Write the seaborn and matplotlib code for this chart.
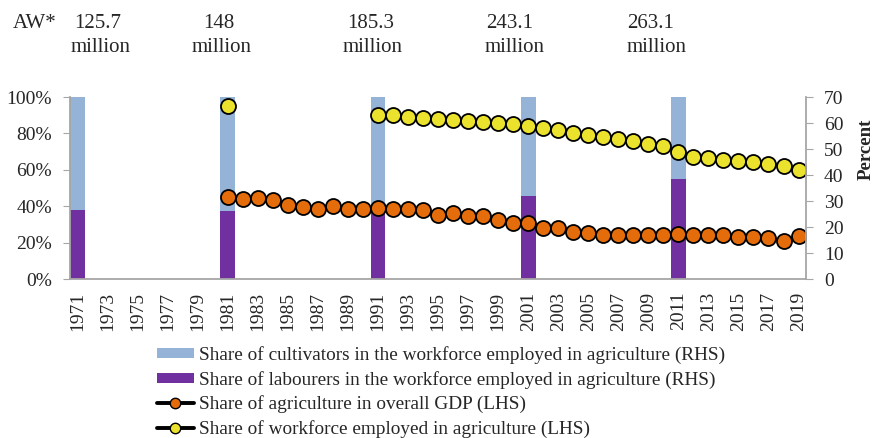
import numpy as np
import pandas as pd
import matplotlib
matplotlib.use("Agg")
import matplotlib.pyplot as plt
import seaborn as sns
from matplotlib.ticker import FuncFormatter, FixedLocator
from matplotlib.patches import Patch
from matplotlib.lines import Line2D

nan = np.nan

years = list(range(1971, 2020))

# census years: share of labourers / cultivators in agricultural workforce (%)
census_years = [1971, 1981, 1991, 2001, 2011]
labourers = [37.8, 37.5, 40.3, 45.6, 54.9]
cultivators = [62.2, 62.5, 59.7, 54.4, 45.1]
aw_millions = ["125.7", "148", "185.3", "243.1", "263.1"]

# share of agriculture in GDP (%), 1981-2019
gdp_share = [31.7, 30.7, 31.3, 30.2, 28.6, 27.6, 27.1, 28.1, 27.1, 27.1,
             27.5, 26.8, 27.1, 26.4, 24.5, 25.2, 24.3, 24.3, 22.8, 21.6,
             21.6, 19.6, 19.6, 17.9, 17.7, 16.9, 16.8, 16.8, 16.8, 17.1,
             17.3, 16.9, 17.1, 16.9, 16.3, 16.3, 15.7, 14.7, 16.6]

# share of workforce employed in agriculture (%), 1981, then 1991-2019
wf_share = [66.7] + [nan] * 9 + [
    63.2, 62.9, 62.5, 62.0, 61.6, 61.3, 60.8, 60.4, 59.9, 59.5,
    58.9, 58.2, 57.5, 56.3, 55.5, 54.6, 53.7, 52.9, 52.1, 51.2,
    48.9, 47.0, 46.5, 45.8, 45.4, 44.9, 44.4, 43.6, 42.1]

line_years = list(range(1981, 2020))

sns.set_style("white")
plt.rcParams["font.family"] = ["Liberation Serif", "DejaVu Serif"]

c_cult = "#95B3D7"
c_lab = "#7030A0"
c_gdp = "#E46C0A"
c_wf = "#EBE22E"
gray = "#A6A6A6"

year_labels = [str(y) for y in years]
bars = pd.DataFrame({
    "year": [str(y) for y in census_years],
    "total": np.array(labourers) + np.array(cultivators),
    "lab": labourers,
})

lines = pd.DataFrame({
    "pos": [years.index(y) for y in line_years],
    "gdp": gdp_share,
    "wf": wf_share,
})
lines["seg"] = lines["wf"].isna().cumsum()

fig = plt.figure(figsize=(8.73, 4.38), dpi=100)
ax = fig.add_axes([0.0802, 0.363, 0.8431, 0.4155])

sns.barplot(data=bars, x="year", y="total", order=year_labels, color=c_cult,
            width=0.98, saturation=1, linewidth=0, ax=ax)
sns.barplot(data=bars, x="year", y="lab", order=year_labels, color=c_lab,
            width=0.98, saturation=1, linewidth=0, ax=ax)

ax2 = ax.twinx()
mk = dict(marker="o", markersize=10.8, markeredgecolor="black",
          markeredgewidth=1.3, color="black", linewidth=1.8)
sns.lineplot(data=lines, x="pos", y="gdp", markerfacecolor=c_gdp, ax=ax2, **mk)
wf = lines.dropna(subset=["wf"])
sns.lineplot(data=wf, x="pos", y="wf", units="seg", estimator=None,
             markerfacecolor=c_wf, ax=ax2, **mk)

ax.set_xlim(-0.5, len(years) - 0.5)
ax.set_ylim(0, 100)
ax2.set_ylim(0, 70)
ax.set_xlabel("")
ax.set_ylabel("")
ax2.set_xlabel("")
ax2.set_ylabel("Percent", fontsize=13.6, fontweight="bold", va="center")
ax2.yaxis.set_label_coords(1.0815, 0.714)

ax.xaxis.set_major_locator(FixedLocator(list(range(0, len(years), 2))))
ax.set_xticklabels(year_labels[::2], rotation=90)
ax.xaxis.set_minor_locator(FixedLocator(np.arange(-0.5, len(years), 1)))
ax.tick_params(axis="x", which="major", length=0, labelsize=14, pad=9)
ax.tick_params(axis="x", which="minor", length=5, color=gray, direction="out")

ax.set_yticks(range(0, 101, 20))
ax.yaxis.set_major_formatter(FuncFormatter(lambda v, p: f"{int(v)}%"))
ax.tick_params(axis="y", length=5, color=gray, labelsize=14, pad=8)
ax2.set_yticks(range(0, 71, 10))
ax2.tick_params(axis="y", length=5, color=gray, labelsize=14, pad=8)

for a in (ax, ax2):
    a.spines["top"].set_visible(False)
    for s in ("left", "right", "bottom"):
        a.spines[s].set_color(gray)
        a.spines[s].set_linewidth(1.3)
ax.spines["right"].set_visible(False)
ax2.spines["left"].set_visible(False)
ax2.spines["bottom"].set_visible(False)

# top annotation: number of agricultural workers
fig.text(13 / 873, 1 - 23 / 438, "AW*", fontsize=15, va="center")
num_x = [98, 219, 371, 510, 651]
mil_x = [101, 222, 373, 515, 657]
for xn, xm, v in zip(num_x, mil_x, aw_millions):
    fig.text(xn / 873, 1 - 23 / 438, v, fontsize=15, va="center", ha="center")
    fig.text(xm / 873, 1 - 48 / 438, "million", fontsize=15, va="center",
             ha="center")

handles = [
    Patch(color=c_cult, linewidth=0),
    Patch(color=c_lab, linewidth=0),
    Line2D([], [], color="black", linewidth=2.8, marker="o", markersize=7.5,
           markerfacecolor=c_gdp, markeredgecolor="black"),
    Line2D([], [], color="black", linewidth=2.8, marker="o", markersize=7.5,
           markerfacecolor=c_wf, markeredgecolor="black"),
]
labels = [
    "Share of cultivators in the workforce employed in agriculture (RHS)",
    "Share of labourers in the workforce employed in agriculture (RHS)",
    "Share of agriculture in overall GDP (LHS)",
    "Share of workforce employed in agriculture (LHS)",
]
fig.legend(handles, labels, loc="upper left",
           bbox_to_anchor=(157 / 873, 1 - 346 / 438), frameon=False,
           fontsize=13.9, handlelength=1.9, handleheight=0.45,
           handletextpad=0.26, labelspacing=0.35, borderaxespad=0,
           borderpad=0)

fig.savefig("out.png", dpi=100)
